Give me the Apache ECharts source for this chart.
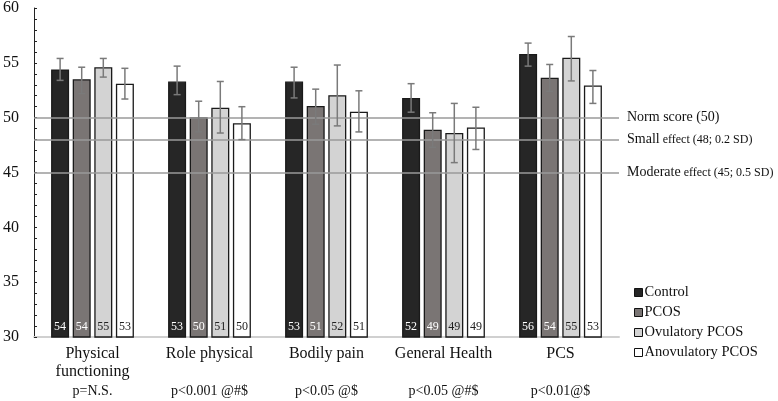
<!DOCTYPE html>
<html>
<head>
<meta charset="utf-8">
<script src="https://cdn.jsdelivr.net/npm/echarts@6/dist/echarts.min.js"></script>
<style>html,body{margin:0;padding:0;background:#fff}#c{width:778px;height:401px}</style>
</head>
<body>
<div id="c"></div>
<script>
const categories = ['Physical functioning', 'Role physical', 'Bodily pain', 'General Health', 'PCS'];
const categoryLines = [['Physical', 'functioning'], ['Role physical', ''], ['Bodily pain', ''], ['General Health', ''], ['PCS', '']];
const pValues = ['p=N.S.', 'p<0.001 @#$', 'p<0.05 @$', 'p<0.05 @#$', 'p<0.01@$'];
const seriesNames = ['Control', 'PCOS', 'Ovulatory PCOS', 'Anovulatory PCOS'];

const controlMean = [54.4, 53.3, 53.3, 51.8, 55.8];
const pcosMean = [53.5, 50.04, 51.06, 48.9, 53.65];
const ovulMean = [54.6, 50.9, 52.05, 48.6, 55.46];
const anovMean = [53.1, 49.5, 50.55, 49.1, 52.93];

const controlLow = [53.4, 52.1, 51.8, 50.5, 54.7];
const controlHigh = [55.4, 54.7, 54.6, 53.1, 56.8];
const pcosLow = [52.2, 48.7, 49.4, 47.3, 52.4];
const pcosHigh = [54.6, 51.5, 52.6, 50.45, 54.85];
const ovulLow = [53.7, 48.6, 49.25, 45.9, 53.35];
const ovulHigh = [55.4, 53.3, 54.8, 51.3, 57.4];
const anovLow = [51.7, 48.0, 48.7, 47.1, 51.3];
const anovHigh = [54.5, 51.0, 52.45, 50.95, 54.3];

const yTicks = { min: 30, max: 60, interval: 5 };
const refLines = [
  { value: 50, big: 'Norm score (50)', small: '' },
  { value: 48, big: 'Small', small: ' effect (48; 0.2 SD)' },
  { value: 45, big: 'Moderate', small: ' effect (45; 0.5 SD)' }
];

const means = [controlMean, pcosMean, ovulMean, anovMean];
const lows = [controlLow, pcosLow, ovulLow, anovLow];
const highs = [controlHigh, pcosHigh, ovulHigh, anovHigh];

const fills = ['#262626', '#7a7574', '#d3d3d3', '#ffffff'];
const labelColors = ['#ffffff', '#ffffff', '#222222', '#222222'];
const BAR_W = 18;
const BAR_STEP = 21.6;
const SERIF = '"Liberation Serif", "DejaVu Serif", serif';

const series = [];
means.forEach((m, i) => {
  const s = {
    name: seriesNames[i],
    type: 'bar',
    data: m,
    barWidth: BAR_W,
    barGap: '20%',
    itemStyle: { color: fills[i], borderColor: '#1a1a1a', borderWidth: 1.3 },
    label: {
      show: true,
      position: 'insideBottom',
      distance: 5,
      formatter: p => Math.round(p.value),
      color: labelColors[i],
      fontFamily: SERIF,
      fontSize: 12
    },
    z: 2
  };
  if (i === 0) {
    s.markLine = {
      silent: true,
      symbol: 'none',
      lineStyle: { color: '#9a9a9a', type: 'solid', width: 1.5 },
      label: {
        show: true,
        position: 'end',
        distance: 8,
        fontFamily: SERIF,
        color: '#111',
        formatter: p => {
          const r = refLines.find(x => x.value === p.value);
          return '{b|' + r.big + '}' + (r.small ? '{s|' + r.small + '}' : '');
        },
        rich: {
          b: { fontFamily: SERIF, fontSize: 14, color: '#111' },
          s: { fontFamily: SERIF, fontSize: 12, color: '#111' }
        }
      },
      data: refLines.map(r => ({ yAxis: r.value }))
    };
  }
  series.push(s);
});

means.forEach((m, i) => {
  const offset = (i - 1.5) * BAR_STEP;
  series.push({
    name: 'err' + i,
    type: 'custom',
    data: categories.map((c, k) => [k, lows[i][k], highs[i][k]]),
    encode: { x: 0, y: [1, 2] },
    z: 5,
    silent: true,
    renderItem: (params, api) => {
      const lo = api.coord([api.value(0), api.value(1)]);
      const hi = api.coord([api.value(0), api.value(2)]);
      const x = lo[0] + offset;
      const cap = 3.5;
      const st = { stroke: '#7a7a7a', lineWidth: 1.5 };
      return {
        type: 'group',
        children: [
          { type: 'line', shape: { x1: x, y1: lo[1], x2: x, y2: hi[1] }, style: st },
          { type: 'line', shape: { x1: x - cap, y1: lo[1], x2: x + cap, y2: lo[1] }, style: st },
          { type: 'line', shape: { x1: x - cap, y1: hi[1], x2: x + cap, y2: hi[1] }, style: st }
        ]
      };
    }
  });
});

const chart = echarts.init(document.getElementById('c'), null, { renderer: 'canvas' });
chart.setOption({
  animation: false,
  backgroundColor: '#ffffff',
  textStyle: { fontFamily: SERIF },
  grid: { left: 30, right: 159, top: 7, bottom: 62, containLabel: false },
  legend: {
    data: seriesNames,
    orient: 'vertical',
    left: 629,
    top: 280,
    icon: 'rect',
    itemWidth: 8,
    itemHeight: 8,
    itemGap: 5,
    textStyle: { fontFamily: SERIF, fontSize: 14.5, color: '#111', padding: [0, 0, 0, -3] },
    itemStyle: { borderColor: '#111', borderWidth: 1 }
  },
  xAxis: {
    type: 'category',
    data: categories,
    axisLine: { lineStyle: { color: '#d0d0d0', width: 2 } },
    axisTick: { show: false },
    axisLabel: {
      interval: 0,
      margin: 8,
      lineHeight: 18,
      formatter: (v, idx) => {
        const l = categoryLines[idx];
        return '{a|' + l[0] + '}\n{a|' + (l[1] || ' ') + '}\n{p|' + pValues[idx] + '}';
      },
      rich: {
        a: { fontFamily: SERIF, fontSize: 16, color: '#111', lineHeight: 18 },
        p: { fontFamily: SERIF, fontSize: 14, color: '#111', lineHeight: 20 }
      }
    }
  },
  yAxis: {
    type: 'value',
    min: yTicks.min,
    max: yTicks.max,
    interval: yTicks.interval,
    splitLine: { show: false },
    axisLine: { show: true, lineStyle: { color: '#222', width: 1 } },
    axisTick: { show: true, inside: true, length: 3, lineStyle: { color: '#222' } },
    minorTick: { show: true, splitNumber: 5, length: 3, lineStyle: { color: '#222' } },
    axisLabel: { fontFamily: SERIF, fontSize: 16, color: '#111', margin: 15 }
  },
  series: series
});
</script>
</body>
</html>
